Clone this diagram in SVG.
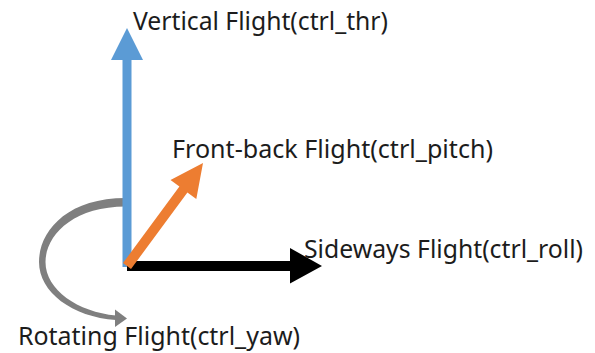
<svg xmlns="http://www.w3.org/2000/svg" width="595" height="353" viewBox="0 0 595 353">
<style>
.lbl{font-family:"Noto Sans","Open Sans","Liberation Sans",sans-serif;font-size:25px;fill:#1c1c1c}
</style>
<rect width="595" height="353" fill="#ffffff"/>
<g id="connectors">
  <g id="rotate-arrow" fill="#7f7f7f">
    <path d="M126 198 C66 198 39 232 39 262 C39 292 72 317 116 320 L116 315.5 C78 312 45.5 290 45.5 262 C45.5 236 72 206.5 126 206.5 Z"/>
    <polygon points="115,309.5 127,318.5 115,327"/>
  </g>
  <polygon id="vertical-arrow" fill="#5b9bd5" points="122.5,267 122.5,60 111,60 127,28 143,60 131.5,60 131.5,267"/>
  <polygon id="sideways-arrow" fill="#000000" points="127,261 290,261 290,248 322,266 290,283.5 290,271 127,271"/>
  <polygon id="frontback-arrow" fill="#ed7d31" points="123,263 179.4,186.6 170.5,180.1 203,163 196.3,199.1 187.4,192.6 131,269"/>
</g>
<g id="vertical">
  <text class="lbl" x="133" y="30" textLength="255" lengthAdjust="spacingAndGlyphs">Vertical Flight(ctrl_thr)</text>
</g>
<g id="frontback">
  <text class="lbl" x="172" y="158" textLength="321" lengthAdjust="spacingAndGlyphs">Front-back Flight(ctrl_pitch)</text>
</g>
<g id="sideways">
  <text class="lbl" x="304" y="258" textLength="279" lengthAdjust="spacingAndGlyphs">Sideways Flight(ctrl_roll)</text>
</g>
<g id="rotating">
  <text class="lbl" x="18" y="345" textLength="282" lengthAdjust="spacingAndGlyphs">Rotating Flight(ctrl_yaw)</text>
</g>
</svg>
